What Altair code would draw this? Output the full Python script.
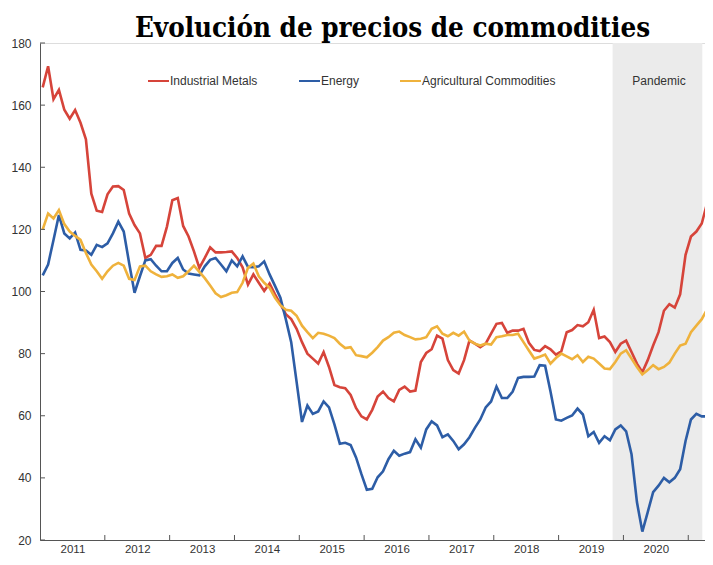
import altair as alt
import pandas as pd

# ---------------- data ----------------
title_text = "Evolución de precios de commodities"
years = ["2011", "2012", "2013", "2014", "2015", "2016", "2017", "2018", "2019", "2020"]
series_names = ["Industrial Metals", "Energy", "Agricultural Commodities"]
series_colors = ["#d6443a", "#2d5da6", "#efb23c"]

# monthly index values, Jan 2011 onwards
metals = [165.7, 172.5, 161.9, 164.9, 158.5, 155.6, 158.4, 154.3, 149.0, 131.5,
          126.0, 125.6, 131.3, 133.8, 133.9, 132.7, 125.1, 121.4, 118.7, 110.8,
          111.8, 114.7, 114.7, 120.9, 129.4, 130.1, 121.1, 117.7, 112.9, 107.6,
          110.8, 114.2, 112.6, 112.6, 112.7, 112.9, 110.8, 107.8, 102.2, 105.5,
          102.8, 100.2, 102.6, 99.1, 95.9, 92.7, 91.1, 88.0, 83.7, 80.0,
          78.4, 76.8, 80.5, 75.7, 69.9, 69.2, 68.9, 66.7, 62.5, 59.8,
          58.8, 61.9, 66.2, 67.8, 65.7, 64.6, 68.3, 69.4, 67.8, 68.1,
          77.3, 80.2, 81.4, 85.8, 84.8, 77.9, 74.7, 73.6, 77.9, 84.2,
          83.2, 82.1, 83.2, 86.4, 89.6, 89.9, 86.7, 87.4, 87.4, 88.0,
          83.5, 81.2, 80.8, 82.4, 81.4, 79.7, 80.7, 86.9, 87.6, 89.2,
          88.8, 90.1, 94.1, 85.0, 85.5, 83.7, 80.5, 83.2, 84.2, 80.5,
          76.8, 74.0, 77.9, 82.6, 86.9, 93.8, 95.9, 94.8, 99.1, 111.8,
          117.7, 119.3, 121.9, 128.5]
energy = [105.2, 108.7, 116.6, 124.6, 118.7, 117.1, 119.0, 113.4, 113.2, 111.8,
          115.0, 114.3, 115.5, 118.7, 122.5, 119.3, 109.2, 99.6, 104.9, 110.0,
          110.4, 108.3, 106.5, 106.5, 109.2, 110.8, 107.1, 105.8, 105.5, 105.2,
          108.1, 110.2, 110.8, 108.7, 106.5, 110.0, 108.1, 111.3, 107.9, 107.8,
          108.1, 109.7, 105.5, 101.8, 98.0, 91.1, 83.7, 70.9, 58.0, 63.3,
          60.6, 61.4, 64.6, 62.7, 57.2, 51.0, 51.3, 50.6, 46.6, 41.2,
          36.2, 36.5, 40.2, 42.1, 46.0, 48.7, 47.1, 47.8, 48.3, 52.4,
          49.7, 55.6, 58.2, 56.9, 53.1, 54.0, 51.9, 49.2, 50.8, 53.1,
          56.1, 58.8, 62.7, 64.6, 69.4, 65.7, 65.7, 67.8, 72.2, 72.5,
          72.5, 72.6, 76.3, 76.1, 67.8, 58.8, 58.4, 59.3, 60.1, 62.3,
          60.4, 53.4, 54.8, 51.3, 53.4, 52.1, 55.6, 56.9, 55.0, 47.6,
          32.2, 22.7, 29.0, 35.4, 37.5, 40.0, 38.6, 40.0, 42.8, 51.9,
          58.8, 60.6, 59.8, 59.8]
agri = [120.0, 125.1, 123.5, 126.2, 121.7, 119.3, 117.9, 116.6, 112.4, 108.7,
        106.5, 104.1, 106.5, 108.3, 109.2, 108.3, 104.1, 103.7, 108.1, 108.3,
        106.5, 105.5, 104.7, 104.9, 105.5, 104.4, 104.9, 106.5, 108.3, 106.3,
        104.3, 101.9, 99.4, 98.2, 98.8, 99.6, 99.8, 102.8, 107.6, 109.0,
        104.9, 102.8, 101.2, 98.0, 95.6, 94.1, 93.8, 92.2, 89.0, 86.9,
        85.0, 86.7, 86.4, 85.8, 85.0, 83.2, 81.8, 82.1, 79.5, 79.2,
        78.8, 80.3, 82.1, 84.2, 85.3, 86.7, 87.1, 86.0, 85.3, 84.6,
        84.8, 85.3, 88.0, 88.8, 86.4, 85.6, 86.7, 85.8, 87.1, 84.2,
        83.2, 82.6, 83.2, 82.9, 85.3, 85.6, 86.0, 86.0, 86.4, 83.7,
        81.0, 78.4, 79.0, 79.7, 76.8, 78.6, 80.0, 79.1, 78.2, 79.5,
        77.3, 79.0, 78.4, 76.8, 75.2, 75.0, 77.3, 80.0, 81.1, 78.4,
        75.7, 73.3, 74.7, 76.3, 75.0, 75.7, 77.1, 80.0, 82.6, 83.2,
        86.9, 89.0, 91.1, 94.3]
months = list(range(len(metals)))  # months since Jan 2011

pandemic_label = "Pandemic"
pandemic_start = [105.5]   # in months since Jan 2011
pandemic_end = [122.1]
y_ticks = [20, 40, 60, 80, 100, 120, 140, 160, 180]
year_boundaries = [12 * k - 0.5 for k in range(1, 11)]
year_centers = [12 * k + 5.5 for k in range(10)]

# ---------------- chart ----------------
W, H = 665, 497
FONT = "Liberation Sans"

xs = alt.Scale(domain=[-0.5, 122.6], nice=False, zero=False)
ys = alt.Scale(domain=[20, 180], nice=False, zero=False)

year_arr = "[" + ",".join("'%s'" % y for y in years) + "]"
x_axis = alt.Axis(values=year_centers, labelExpr=year_arr + "[floor(datum.value/12)]",
                  ticks=False, grid=False, domainColor="#555555", domainWidth=1,
                  labelFont=FONT, labelFontSize=11.5, labelColor="#333333",
                  labelPadding=3, title=None)
y_axis = alt.Axis(values=y_ticks, ticks=False, grid=False, domainColor="#555555",
                  domainWidth=1, labelFont=FONT, labelFontSize=12,
                  labelColor="#333333", labelPadding=9, title=None)

shade_df = pd.DataFrame({"s": pandemic_start, "e": pandemic_end})
shade = alt.Chart(shade_df).mark_rect(color="#ebebeb").encode(
    x=alt.X("s:Q", scale=xs, axis=x_axis),
    x2="e:Q",
    y=alt.value(0), y2=alt.value(H),
)

layers = [shade]
for name, vals, col in zip(series_names, [metals, energy, agri], series_colors):
    df = pd.DataFrame({"m": months, "v": vals})
    layers.append(
        alt.Chart(df).mark_line(color=col, strokeWidth=2.6, clip=True).encode(
            x=alt.X("m:Q", scale=xs, axis=x_axis),
            y=alt.Y("v:Q", scale=ys, axis=y_axis),
        )
    )

xt = alt.Chart(pd.DataFrame({"b": year_boundaries})).mark_rule(color="#555555").encode(
    x=alt.X("b:Q", scale=xs), y=alt.value(H), y2=alt.value(H - 5))
yt = alt.Chart(pd.DataFrame({"t": y_ticks})).mark_rule(color="#555555").encode(
    y=alt.Y("t:Q", scale=ys), x=alt.value(0), x2=alt.value(5))
layers += [xt, yt]

# legend inside the plot
leg_y = 38
leg_pos = [(108, 129), (259, 280), (360, 381)]
for name, col, (a, b) in zip(series_names, series_colors, leg_pos):
    d = pd.DataFrame({"label": [name]})
    layers.append(alt.Chart(d).mark_rule(color=col, strokeWidth=2).encode(
        x=alt.value(a), x2=alt.value(b), y=alt.value(leg_y)))
    layers.append(alt.Chart(d).mark_text(align="left", baseline="middle", font=FONT,
                                         fontSize=12, color="#333333", dx=1).encode(
        x=alt.value(b), y=alt.value(leg_y), text="label:N"))

pd_df = pd.DataFrame({"label": [pandemic_label]})
layers.append(alt.Chart(pd_df).mark_text(align="center", baseline="middle", font=FONT,
                                         fontSize=12, color="#333333").encode(
    x=alt.value(619), y=alt.value(leg_y), text="label:N"))

chart = alt.layer(*layers).properties(
    width=W, height=H,
    title=alt.TitleParams(text=title_text, font="DejaVu Serif Condensed, DejaVu Serif",
                          fontSize=27.5, fontWeight="bold", color="#000000",
                          anchor="middle", dx=20, dy=5, offset=0),
    autosize=alt.AutoSizeParams(type="none"),
    padding={"left": 32, "top": 35, "right": 0, "bottom": 15},
).configure_view(stroke=None).configure(background="white")

chart.save("out.html", embed_options={"renderer": "svg", "actions": False})
